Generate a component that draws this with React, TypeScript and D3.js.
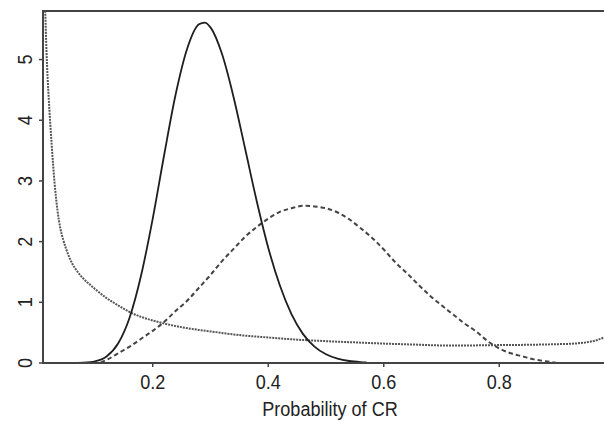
import React from 'react';
import { scaleLinear, line, curveMonotoneX } from 'd3';

// density curves, [probability, density]
const solidCurve: [number, number][] = [
  [0.07, 0.001], [0.08, 0.004], [0.10, 0.026], [0.12, 0.107], [0.14, 0.32],
  [0.16, 0.75], [0.18, 1.45], [0.20, 2.38], [0.22, 3.44], [0.24, 4.44],
  [0.26, 5.19], [0.28, 5.58], [0.29, 5.61], [0.30, 5.53], [0.32, 5.09],
  [0.34, 4.38], [0.36, 3.53], [0.38, 2.67], [0.40, 1.90], [0.42, 1.28],
  [0.44, 0.81], [0.46, 0.48], [0.48, 0.27], [0.50, 0.144], [0.52, 0.072],
  [0.54, 0.033], [0.56, 0.015], [0.57, 0.01],
];

const dashedCurve: [number, number][] = [
  [0.11, 0.01], [0.12, 0.05], [0.14, 0.16], [0.16, 0.27], [0.18, 0.40],
  [0.20, 0.53], [0.22, 0.68], [0.24, 0.86], [0.26, 1.03], [0.28, 1.24],
  [0.30, 1.45], [0.32, 1.68], [0.34, 1.88], [0.36, 2.08], [0.38, 2.24],
  [0.40, 2.38], [0.42, 2.49], [0.44, 2.55], [0.46, 2.59], [0.48, 2.58],
  [0.50, 2.55], [0.52, 2.48], [0.54, 2.37], [0.56, 2.22], [0.58, 2.06],
  [0.60, 1.87], [0.62, 1.66], [0.64, 1.48], [0.66, 1.29], [0.68, 1.11],
  [0.70, 0.95], [0.72, 0.80], [0.74, 0.65], [0.76, 0.52], [0.78, 0.36],
  [0.80, 0.24], [0.82, 0.16], [0.84, 0.11], [0.86, 0.06], [0.88, 0.03],
  [0.90, 0.0],
];

const dottedCurve: [number, number][] = [
  [0.013, 6.0], [0.014, 5.75], [0.016, 5.15], [0.018, 4.70], [0.02, 4.35],
  [0.025, 3.60], [0.03, 2.97], [0.035, 2.52], [0.04, 2.22], [0.045, 2.03],
  [0.05, 1.88], [0.06, 1.65], [0.07, 1.50], [0.08, 1.39], [0.09, 1.30],
  [0.10, 1.22], [0.12, 1.07], [0.14, 0.95], [0.16, 0.84], [0.18, 0.76],
  [0.20, 0.70], [0.22, 0.65], [0.25, 0.59], [0.28, 0.545], [0.30, 0.52],
  [0.35, 0.46], [0.40, 0.42], [0.45, 0.385], [0.50, 0.36], [0.55, 0.34],
  [0.60, 0.32], [0.65, 0.305], [0.70, 0.29], [0.75, 0.29], [0.80, 0.295],
  [0.85, 0.30], [0.90, 0.31], [0.93, 0.32], [0.95, 0.34], [0.97, 0.38],
  [0.99, 0.46],
];

const xTicks = [0.2, 0.4, 0.6, 0.8];
const yTicks = [0, 1, 2, 3, 4, 5];
const xLabel = 'Probability of CR';

const W = 604;
const H = 421;
const left = 43;
const top = 11;
const bottom = 363;
const right = 609;

// narrow look: Liberation Sans squeezed horizontally
const font = '"Liberation Sans", Arial, sans-serif';
const fs = 21;
const squeeze = 0.86;

export default function App() {
  const x = scaleLinear().domain([0.01, 0.99]).range([left, right]);
  const y = scaleLinear().domain([0, 5.8]).range([bottom, top]);
  const path = line<[number, number]>()
    .x(d => x(d[0]))
    .y(d => y(d[1]))
    .curve(curveMonotoneX);

  return (
    <svg width={W} height={H} style={{ position: 'absolute', left: 0, top: 0, background: '#fff' }}>
      <defs>
        <clipPath id="plot">
          <rect x={left} y={top} width={right - left} height={bottom - top} />
        </clipPath>
      </defs>
      <rect width={W} height={H} fill="#fff" />

      <g clipPath="url(#plot)" fill="none">
        <path d={path(dottedCurve) || ''} stroke="#555" strokeWidth={2} strokeDasharray="2 1" />
        <path d={path(dashedCurve) || ''} stroke="#444" strokeWidth={2} strokeDasharray="4.5 3" />
        <path d={path(solidCurve) || ''} stroke="#1e1e1e" strokeWidth={1.8} />
      </g>

      {/* frame */}
      <rect x={left} y={top} width={right - left} height={bottom - top} fill="none" stroke="#444" strokeWidth={2} />

      {/* y axis */}
      {yTicks.map(t => (
        <g key={t} transform={`translate(0,${y(t)})`}>
          <line x1={left - 4} x2={left} stroke="#444" strokeWidth={1.5} />
          <text
            transform={`translate(32,0) rotate(-90) scale(${squeeze},1)`}
            textAnchor="middle"
            fontFamily={font}
            fontSize={fs}
            fill="#222"
          >
            {t}
          </text>
        </g>
      ))}

      {/* x axis */}
      {xTicks.map(t => (
        <g key={t} transform={`translate(${x(t)},0)`}>
          <line y1={bottom} y2={bottom + 4} stroke="#444" strokeWidth={1.5} />
          <text
            transform={`translate(0,389) scale(${squeeze},1)`}
            textAnchor="middle"
            fontFamily={font}
            fontSize={fs}
            fill="#222"
          >
            {t}
          </text>
        </g>
      ))}

      <text
        transform={`translate(330,416) scale(${squeeze},1)`}
        textAnchor="middle"
        fontFamily={font}
        fontSize={fs}
        fill="#222"
      >
        {xLabel}
      </text>
    </svg>
  );
}
